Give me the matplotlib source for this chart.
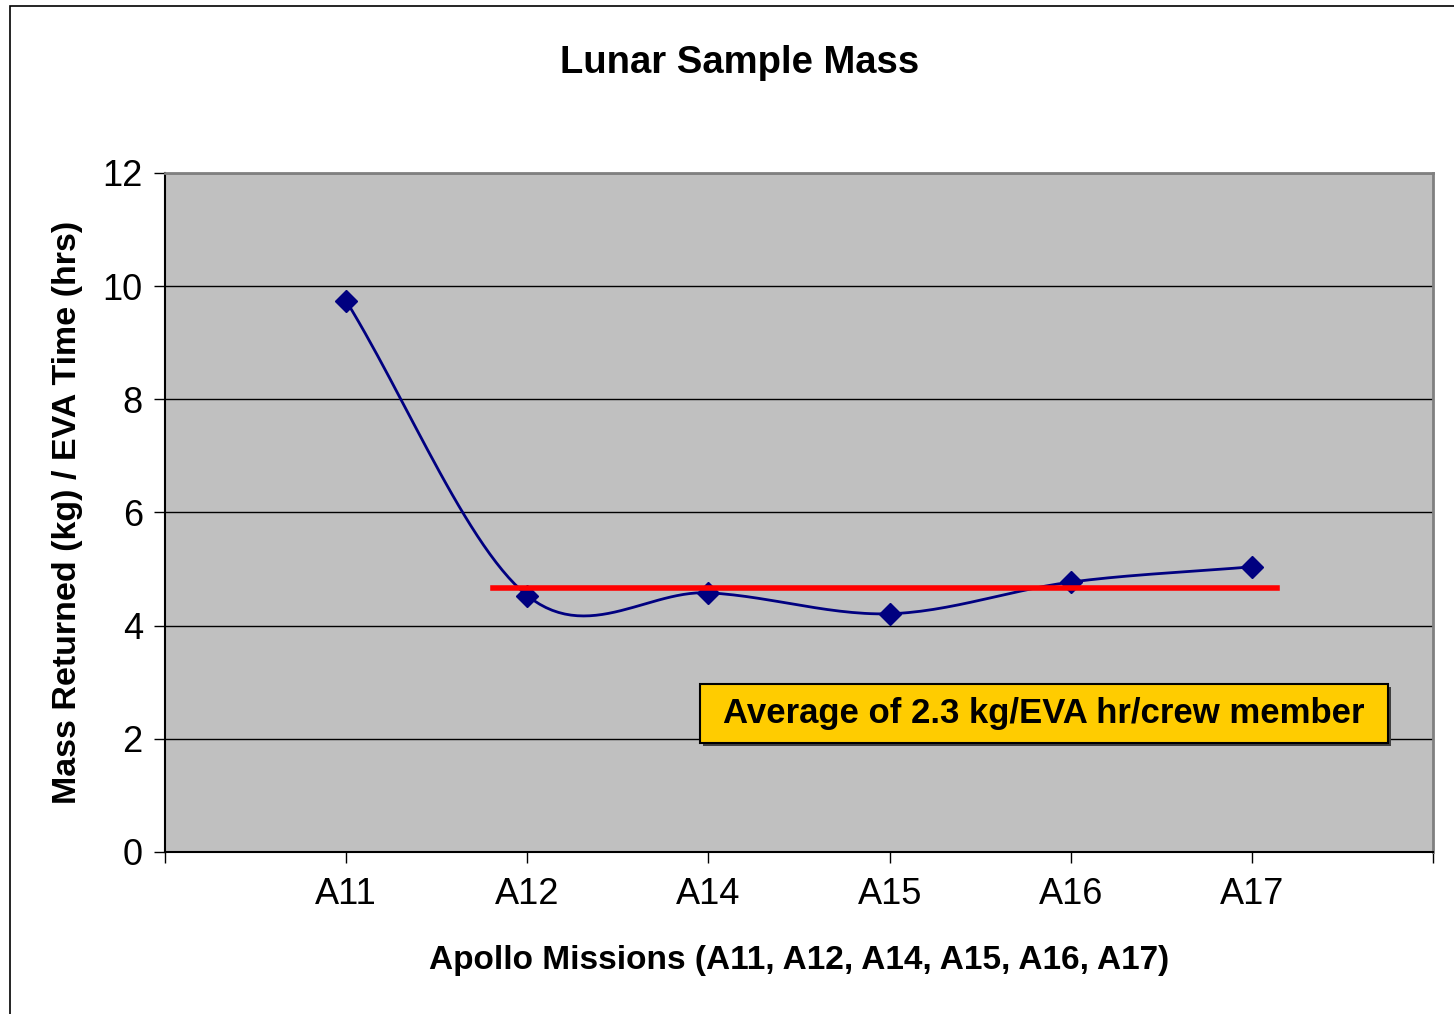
import numpy as np
import matplotlib
matplotlib.use("Agg")
import matplotlib.pyplot as plt
from matplotlib.patches import Rectangle

# values
missions = ["A11", "A12", "A14", "A15", "A16", "A17"]
mass_per_hr = [9.74, 4.53, 4.58, 4.21, 4.77, 5.04]
average = 4.67
avg_span = [1.81, 6.14]  # category units where the red line starts/ends
note = "Average of 2.3 kg/EVA hr/crew member"

plt.rcParams['font.family'] = ['Liberation Sans', 'DejaVu Sans']


def smooth(x, y, n=30):
    # Catmull-Rom spline, close to Excel's "smoothed line"
    x = np.asarray(x, float)
    y = np.asarray(y, float)
    px = np.concatenate([[2 * x[0] - x[1]], x, [2 * x[-1] - x[-2]]])
    py = np.concatenate([[2 * y[0] - y[1]], y, [2 * y[-1] - y[-2]]])
    xs, ys = [], []
    for i in range(1, len(px) - 2):
        t = np.linspace(0, 1, n)
        for p, out in ((px, xs), (py, ys)):
            p0, p1, p2, p3 = p[i - 1], p[i], p[i + 1], p[i + 2]
            out.append(0.5 * ((2 * p1) + (-p0 + p2) * t
                              + (2 * p0 - 5 * p1 + 4 * p2 - p3) * t ** 2
                              + (-p0 + 3 * p1 - 3 * p2 + p3) * t ** 3))
    return np.concatenate(xs), np.concatenate(ys)


fig = plt.figure(figsize=(14.54, 10.14), dpi=100)
ax = fig.add_axes([0.1135, 0.1598, 0.8721, 0.6696])
ax.set_facecolor("#C0C0C0")

# outer chart frame (runs off the right and bottom edges)
fig.patches.append(Rectangle((10 / 1454, -0.05), 1.2, (1014 - 6) / 1014 + 0.05,
                             transform=fig.transFigure, fill=False,
                             edgecolor="black", linewidth=1.2))

xpos = np.arange(1, len(missions) + 1)
sx, sy = smooth(xpos, mass_per_hr)
ax.plot(sx, sy, color="#000080", linewidth=2, zorder=3)
ax.plot(xpos, mass_per_hr, linestyle="none", marker="D", markersize=11,
        color="#000080", zorder=4)
ax.plot(avg_span, [average, average], color="#FF0000", linewidth=4, zorder=5)

ax.set_xlim(0, 7)
ax.set_ylim(0, 12)
ax.set_yticks(range(0, 13, 2))
ax.set_xticks(range(0, 8))
ax.set_xticklabels([""] + missions + [""])
ax.yaxis.grid(True, color="black", linewidth=1)
ax.set_axisbelow(True)
ax.tick_params(axis="both", labelsize=26, length=8, width=1, direction="out")
ax.tick_params(axis="x", pad=10)
ax.tick_params(axis="y", pad=8)

for side in ("top", "right"):
    ax.spines[side].set_color("#808080")
    ax.spines[side].set_linewidth(2)
for side in ("left", "bottom"):
    ax.spines[side].set_color("black")
    ax.spines[side].set_linewidth(1.5)

ax.set_xlabel("Apollo Missions (A11, A12, A14, A15, A16, A17)",
              fontsize=24, fontweight="bold", labelpad=24)
ax.set_ylabel("Mass Returned (kg) / EVA Time (hrs)",
              fontsize=24.5, fontweight="bold", labelpad=14)
fig.text(740 / 1454, 1 - 63 / 1014, "Lunar Sample Mass", fontsize=27.5,
         fontweight="bold", ha="center", va="center")

# yellow note box
bx0, bx1 = (700 - 165) / 1268, (1388 - 165) / 1268
by0, by1 = (852 - 743) / 679, (852 - 684) / 679
ax.add_patch(Rectangle((bx0 + 0.002, by0 - 0.004), bx1 - bx0, by1 - by0,
                       transform=ax.transAxes, facecolor="#404040",
                       edgecolor="none", zorder=6))
ax.add_patch(Rectangle((bx0, by0), bx1 - bx0, by1 - by0, transform=ax.transAxes,
                       facecolor="#FFCC00", edgecolor="black", linewidth=1.5,
                       zorder=7))
ax.text((bx0 + bx1) / 2, (by0 + by1) / 2, note, transform=ax.transAxes,
        fontsize=25, fontweight="bold", ha="center", va="center", zorder=8)

fig.savefig("out.png", dpi=100)
